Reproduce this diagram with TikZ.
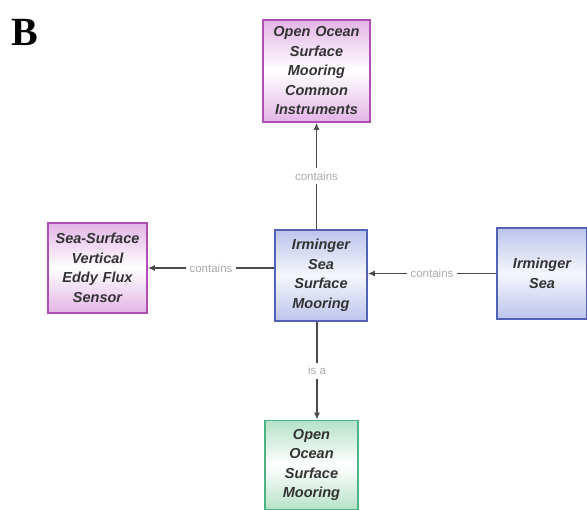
\documentclass[tikz,border=0pt]{standalone}
\usepackage{fontspec}
\setmainfont{Liberation Serif}
\setsansfont{Liberation Sans}
\usepackage{tikz}
\usetikzlibrary{arrows.meta}

\definecolor{purpleline}{HTML}{B04EB4}
\definecolor{purplefill}{HTML}{E2B4E6}
\definecolor{blueline}{HTML}{5262B4}
\definecolor{bluefill}{HTML}{BCC4EC}
\definecolor{greenline}{HTML}{4CB482}
\definecolor{greenfill}{HTML}{B6E2C8}
\definecolor{boxtext}{HTML}{333333}
\definecolor{reltext}{HTML}{AAAAAA}
\definecolor{arrowline}{HTML}{4A4A4A}

\begin{document}
\begin{tikzpicture}[x=1pt, y=-1pt,
    box/.style={rectangle, line width=1.6pt, align=center, inner sep=1pt,
        text=boxtext, font=\sffamily\bfseries\itshape\fontsize{14.5}{19.5}\selectfont},
    purplebox/.style={box, draw=purpleline, top color=purplefill, bottom color=purplefill, middle color=white},
    bluebox/.style={box, draw=blueline, top color=bluefill, bottom color=bluefill, middle color=white!85!bluefill},
    greenbox/.style={box, draw=greenline, top color=greenfill, bottom color=greenfill, middle color=white},
    arr/.style={-{Latex[length=7pt, width=6pt]}, draw=arrowline, line width=1.8pt},
    rel/.style={fill=white, text=reltext, font=\sffamily\fontsize{11.5}{13}\selectfont, inner sep=4pt}]
    \useasboundingbox (0,0) rectangle (587,510);
%    \draw [help lines] (0,0) grid[step=50] (587,510);

    \node (fig) [font=\rmfamily\bfseries\fontsize{40}{40}\selectfont, anchor=north west, inner sep=0pt] at (11,19) {B};

    %% the five classes, sizes taken from the boxes
    \node (instr) [purplebox, minimum width=107, minimum height=102, text width=103] at (316.5,71)
        {Open Ocean\\ Surface\\ Mooring\\ Common\\ Instruments};
    \node (sensor) [purplebox, minimum width=99, minimum height=90, text width=95] at (97.5,268)
        {Sea-Surface\\ Vertical\\ Eddy Flux\\ Sensor};
    \node (center) [bluebox, minimum width=92, minimum height=91, text width=88] at (321,275.5)
        {Irminger\\ Sea\\ Surface\\ Mooring};
    \node (sea) [bluebox, minimum width=90, minimum height=91, text width=86] at (542,273.5)
        {Irminger\\ Sea};
    \node (moor) [greenbox, minimum width=93, minimum height=89, text width=89] at (311.5,465)
        {Open\\ Ocean\\ Surface\\ Mooring};

    %% relations
    \draw [arr] (center.north -| instr) -- node [rel] {contains} (instr.south);
    \draw [arr] (center.west |- sensor) -- node [rel] {contains} (sensor.east);
    \draw [arr] (sea.west) -- node [rel] {contains} (center.east |- sea);
    \draw [arr] ([xshift=-4pt]center.south) -- node [rel] {is a} ([xshift=-4pt]center.south |- moor.north);

\end{tikzpicture}
\end{document}
